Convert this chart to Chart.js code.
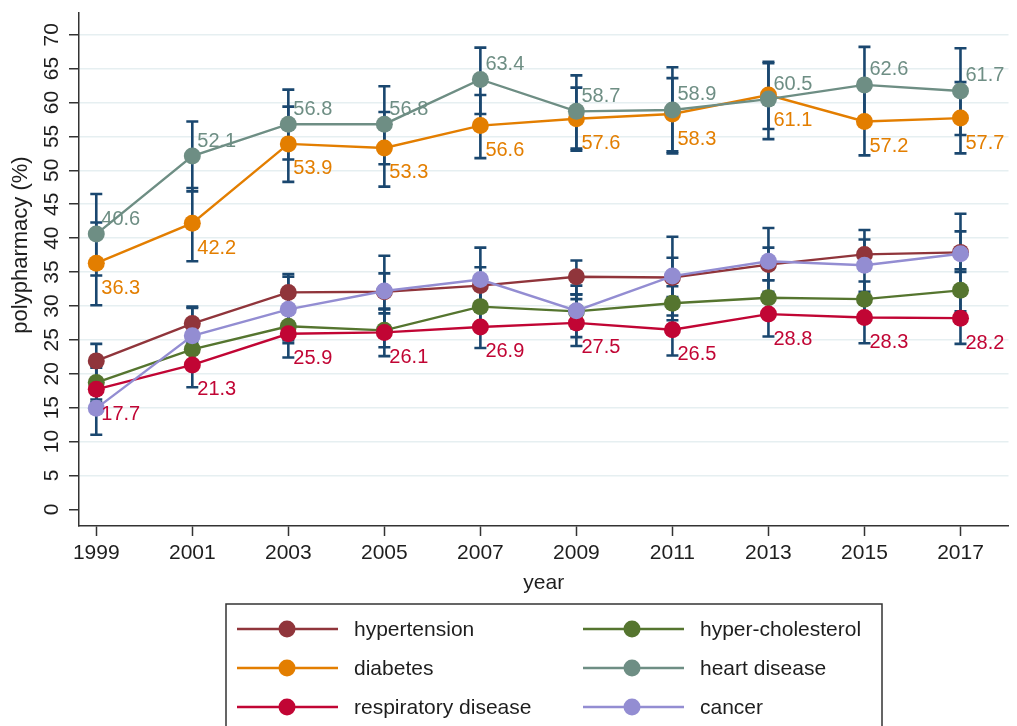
<!DOCTYPE html>
<html><head><meta charset="utf-8">
<script src="https://cdn.jsdelivr.net/npm/chart.js@4"></script>
<style>html,body{margin:0;padding:0;background:#fff}</style>
</head><body>
<canvas id="c" width="1017" height="726"></canvas>
<script>
const years = [1999, 2001, 2003, 2005, 2007, 2009, 2011, 2013, 2015, 2017];
const yTicks = [0, 5, 10, 15, 20, 25, 30, 35, 40, 45, 50, 55, 60, 65, 70];

const hypertension   = [21.9, 27.4, 32.0, 32.1, 33.0, 34.3, 34.2, 36.1, 37.6, 37.9];
const hypertensionLo = [19.3, 24.9, 29.3, 29.5, 30.3, 31.7, 31.3, 33.8, 35.3, 35.0];
const hypertensionHi = [24.4, 29.9, 34.7, 34.8, 35.7, 36.7, 37.1, 38.6, 39.8, 41.0];

const cholesterol   = [18.7, 23.6, 27.0, 26.4, 29.9, 29.2, 30.4, 31.2, 31.0, 32.3];
const cholesterolLo = [16.2, 21.2, 24.5, 23.9, 27.3, 26.7, 27.9, 28.6, 28.4, 29.2];
const cholesterolHi = [21.2, 26.0, 29.5, 28.9, 32.5, 31.7, 32.9, 33.8, 33.6, 35.4];

const diabetes   = [36.3, 42.2, 53.9, 53.3, 56.6, 57.6, 58.3, 61.1, 57.2, 57.7];
const diabetesLo = [30.1, 36.6, 48.3, 47.6, 51.8, 52.9, 52.5, 56.1, 52.2, 52.5];
const diabetesHi = [42.3, 47.4, 59.4, 58.6, 61.1, 62.2, 63.6, 65.8, 62.2, 63.0];

const heart   = [40.6, 52.1, 56.8, 56.8, 63.4, 58.7, 58.9, 60.5, 62.6, 61.7];
const heartLo = [34.5, 46.9, 51.6, 50.9, 58.3, 53.2, 52.8, 54.6, 57.0, 55.2];
const heartHi = [46.5, 57.2, 61.9, 62.4, 68.1, 64.0, 65.2, 66.0, 68.2, 68.0];

const respiratory   = [17.7, 21.3, 25.9, 26.1, 26.9, 27.5, 26.5, 28.8, 28.3, 28.2];
const respiratoryLo = [15.8, 18.0, 22.4, 22.6, 23.8, 24.1, 22.7, 25.5, 24.5, 24.4];
const respiratoryHi = [20.9, 24.6, 29.4, 29.6, 30.0, 31.0, 30.4, 32.1, 32.1, 32.0];

const cancer   = [14.9, 25.6, 29.5, 32.2, 33.9, 29.3, 34.4, 36.6, 36.0, 37.7];
const cancerLo = [11.0, 21.5, 24.9, 27.0, 29.2, 25.4, 28.6, 31.7, 31.0, 31.8];
const cancerHi = [18.9, 29.7, 34.3, 37.4, 38.6, 33.0, 40.2, 41.5, 41.2, 43.6];

const FONT = '"Liberation Sans", Arial, sans-serif';
const TXT = '#1e1e1e';
const NAVY = '#1a476f';

function mk(label, vals, lo, hi, color, order, labelPos) {
  return {
    label, data: years.map((x, i) => ({x, y: vals[i]})),
    lo, hi, labelPos,
    borderColor: color, backgroundColor: color,
    pointBackgroundColor: color, pointBorderColor: color,
    pointRadius: 8.5, pointHoverRadius: 8.5, pointBorderWidth: 0,
    borderWidth: 2.4, tension: 0, order
  };
}

const datasets = [
  mk('hypertension', hypertension, hypertensionLo, hypertensionHi, '#90353b', 6, null),
  mk('hyper-cholesterol', cholesterol, cholesterolLo, cholesterolHi, '#55752f', 5, null),
  mk('diabetes', diabetes, diabetesLo, diabetesHi, '#e37e00', 4, 'below'),
  mk('heart disease', heart, heartLo, heartHi, '#6e8e84', 3, 'above'),
  mk('respiratory disease', respiratory, respiratoryLo, respiratoryHi, '#c10534', 2, 'below'),
  mk('cancer', cancer, cancerLo, cancerHi, '#938dd2', 1, null)
];

const errorBars = {
  id: 'errorBars',
  beforeDatasetsDraw(chart) {
    const ctx = chart.ctx, xs = chart.scales.x, ys = chart.scales.y;
    ctx.save();
    ctx.strokeStyle = NAVY; ctx.lineWidth = 2.6;
    chart.data.datasets.forEach(ds => {
      years.forEach((yr, i) => {
        const x = xs.getPixelForValue(yr);
        const a = ys.getPixelForValue(ds.lo[i]), b = ys.getPixelForValue(ds.hi[i]);
        ctx.beginPath();
        ctx.moveTo(x, a); ctx.lineTo(x, b);
        ctx.moveTo(x - 6, a); ctx.lineTo(x + 6, a);
        ctx.moveTo(x - 6, b); ctx.lineTo(x + 6, b);
        ctx.stroke();
      });
    });
    ctx.restore();
  }
};

const extras = {
  id: 'extras',
  afterDraw(chart) {
    const ctx = chart.ctx, ys = chart.scales.y;
    ctx.save();
    // data labels
    ctx.font = '20px ' + FONT;
    ctx.textAlign = 'left'; ctx.textBaseline = 'middle';
    chart.data.datasets.forEach((ds, di) => {
      if (!ds.labelPos) return;
      const meta = chart.getDatasetMeta(di);
      ctx.fillStyle = ds.borderColor;
      meta.data.forEach((pt, i) => {
        const dy = ds.labelPos === 'above' ? -15 : 25;
        ctx.fillText(ds.data[i].y.toFixed(1), pt.x + 5, pt.y + dy);
      });
    });
    // y tick labels (rotated)
    ctx.fillStyle = TXT;
    ctx.font = '21px ' + FONT;
    ctx.textAlign = 'center'; ctx.textBaseline = 'middle';
    yTicks.forEach(v => {
      const y = ys.getPixelForValue(v);
      ctx.save();
      ctx.translate(52, y);
      ctx.rotate(-Math.PI / 2);
      ctx.fillText(String(v), 0, 0);
      ctx.restore();
    });
    // y axis title
    ctx.save();
    ctx.font = '22px ' + FONT;
    ctx.translate(21, 245);
    ctx.rotate(-Math.PI / 2);
    ctx.fillText('polypharmacy (%)', 0, 0);
    ctx.restore();
    // legend
    ctx.strokeStyle = '#333'; ctx.lineWidth = 1.5;
    ctx.strokeRect(226, 604, 656, 140);
    ctx.font = '21px ' + FONT;
    ctx.textAlign = 'left';
    chart.data.datasets.forEach((ds, i) => {
      const r = Math.floor(i / 2), c = i % 2;
      const y = 629 + r * 39;
      const x1 = c ? 583 : 237, x2 = c ? 684 : 338, mx = c ? 632 : 287, tx = c ? 700 : 354;
      ctx.strokeStyle = ds.borderColor; ctx.lineWidth = 2.6;
      ctx.beginPath(); ctx.moveTo(x1, y); ctx.lineTo(x2, y); ctx.stroke();
      ctx.fillStyle = ds.borderColor;
      ctx.beginPath(); ctx.arc(mx, y, 8.5, 0, Math.PI * 2); ctx.fill();
      ctx.fillStyle = TXT;
      ctx.fillText(ds.label, tx, y + 1);
    });
    ctx.restore();
  }
};

new Chart(document.getElementById('c'), {
  type: 'line',
  data: { datasets },
  options: {
    responsive: false, animation: false, devicePixelRatio: 1,
    layout: { padding: { left: 10, top: 13, right: 4, bottom: 130 } },
    plugins: { legend: { display: false }, tooltip: { enabled: false } },
    scales: {
      x: {
        type: 'linear', min: 1998.64, max: 2018,
        afterBuildTicks: s => { s.ticks = years.map(v => ({ value: v })); },
        afterFit: s => { s.height = 70; },
        ticks: { font: { size: 21, family: FONT }, color: TXT, padding: 5, callback: v => String(v), autoSkip: false, maxRotation: 0 },
        grid: { drawOnChartArea: false, drawTicks: true, tickLength: 10, tickColor: '#333', tickWidth: 1.5 },
        border: { color: '#333', width: 1.5 },
        title: { display: true, text: 'year', font: { size: 21, family: FONT }, color: TXT, padding: 0 }
      },
      y: {
        type: 'linear', min: -2.45, max: 73.2,
        afterBuildTicks: s => { s.ticks = yTicks.map(v => ({ value: v })); },
        afterFit: s => { s.width = 69; },
        ticks: { display: false },
        grid: {
          color: c => (c.tick && c.tick.value === 0) ? 'rgba(0,0,0,0)' : '#e6eff1',
          lineWidth: 1.5, drawTicks: true, tickLength: 10, tickColor: '#333', tickWidth: 1.5
        },
        border: { color: '#333', width: 1.5 },
        title: { display: false }
      }
    }
  },
  plugins: [errorBars, extras]
});
</script>
</body></html>
